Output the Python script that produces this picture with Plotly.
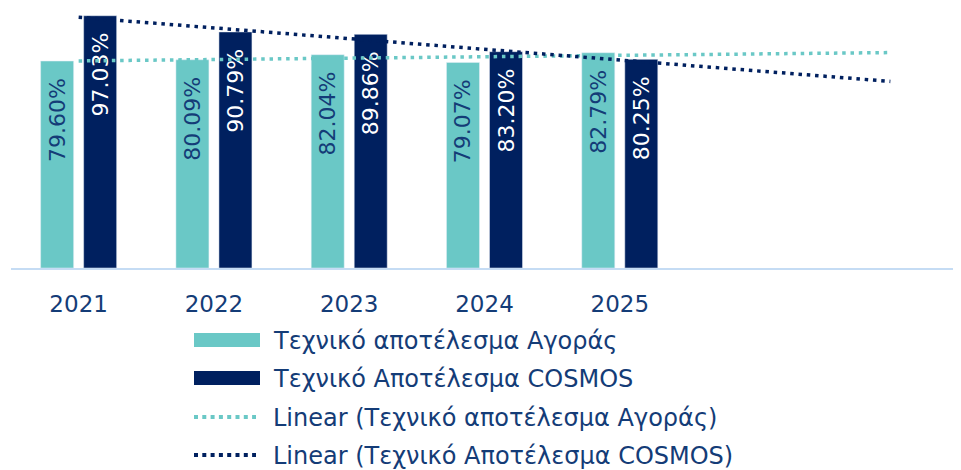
import numpy as np
import plotly.graph_objects as go

# ---- data ----
years = ["2021", "2022", "2023", "2024", "2025"]
market = [79.60, 80.09, 82.04, 79.07, 82.79]
cosmos = [97.03, 90.79, 89.86, 83.20, 80.25]
names = [
    "Τεχνικό αποτέλεσμα Αγοράς",
    "Τεχνικό Αποτέλεσμα COSMOS",
    "Linear (Τεχνικό αποτέλεσμα Αγοράς)",
    "Linear (Τεχνικό Αποτέλεσμα COSMOS)",
]
forecast_periods = 2

# ---- style ----
TEAL = "#6AC8C6"
NAVY = "#00205F"
TEXT = "#143C77"
AXIS = "#C5DCF4"
FONT = "DejaVu Sans"

x = np.arange(len(years))
x_trend = np.arange(len(years) + forecast_periods)


def trend(vals):
    m, b = np.polyfit(x, vals, 1)
    return m * x_trend + b


fig = go.Figure()
fig.add_bar(
    x=x, y=market, name=names[0], marker_color=TEAL,
    text=[f"{v:.2f}%\u2007" for v in market], textposition="inside",
    insidetextanchor="end", textangle=-90, constraintext="none",
    insidetextfont=dict(color=TEXT, size=22, family=FONT),
)
fig.add_bar(
    x=x, y=cosmos, name=names[1], marker_color=NAVY,
    text=[f"{v:.2f}%\u2007" for v in cosmos], textposition="inside",
    insidetextanchor="end", textangle=-90, constraintext="none",
    insidetextfont=dict(color="white", size=22, family=FONT),
)
fig.add_scatter(
    x=x_trend, y=trend(market), mode="lines", name=names[2],
    line=dict(color=TEAL, width=3.5, dash="3.5px,4.8px"), cliponaxis=False,
)
fig.add_scatter(
    x=x_trend, y=trend(cosmos), mode="lines", name=names[3],
    line=dict(color=NAVY, width=3.5, dash="3.5px,4.8px"), cliponaxis=False,
)

# ---- custom legend (paper coordinates; page has an 8px body margin) ----
ML, MR, MT, MB = 3, 11, 0, 210
PLOT_W = 961 - ML - MR
PLOT_H = 470 - MT - MB
OFF = 8


def px(pix):
    return (pix - OFF - ML) / PLOT_W


def py(pix):
    return (PLOT_H + MT - (pix - OFF)) / PLOT_H


rows = [340, 378, 417, 455]
sym_x0, sym_x1, txt_x = 194, 260, 271
shapes = []
annotations = []
for i, r in enumerate(rows):
    if i < 2:
        shapes.append(dict(
            type="rect", xref="paper", yref="paper",
            x0=px(sym_x0), x1=px(sym_x1), y0=py(r - 7), y1=py(r + 7),
            fillcolor=[TEAL, NAVY][i], line=dict(width=0),
        ))
    else:
        shapes.append(dict(
            type="line", xref="paper", yref="paper",
            x0=px(sym_x0), x1=px(sym_x0 + 62), y0=py(r), y1=py(r),
            line=dict(color=[TEAL, NAVY][i - 2], width=4, dash="4px,4.3px"),
        ))
    annotations.append(dict(
        xref="paper", yref="paper", x=px(txt_x), y=py(r + 1),
        xanchor="left", yanchor="middle", text=names[i], showarrow=False,
        font=dict(family=FONT, size=24, color=TEXT),
    ))

fig.update_layout(
    width=961, height=470,
    margin=dict(l=ML, r=MR, t=MT, b=MB),
    paper_bgcolor="white", plot_bgcolor="white",
    barmode="group", bargap=0.364, bargroupgap=0.233,
    showlegend=False, hovermode=False,
    font=dict(family=FONT, color=TEXT),
    shapes=shapes, annotations=annotations,
    xaxis=dict(
        range=[-0.5, 6.5], tickmode="array", tickvals=list(x), ticktext=years,
        showgrid=False, zeroline=False, showline=True, linecolor=AXIS,
        linewidth=1.5, ticks="", ticklabelstandoff=15,
        tickfont=dict(family=FONT, size=23, color=TEXT),
    ),
    yaxis=dict(range=[0, 100], visible=False),
)

fig.write_html("out.html")
